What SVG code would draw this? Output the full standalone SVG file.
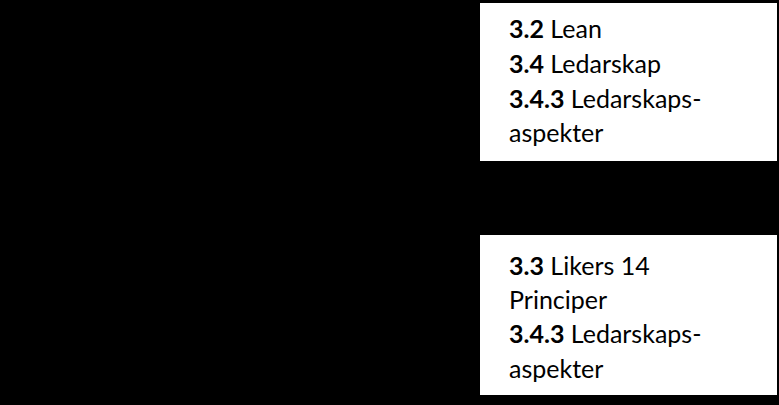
<svg xmlns="http://www.w3.org/2000/svg" width="779" height="405" viewBox="0 0 779 405">
<style>
.box{fill:#fff;stroke:none}
.t{font-family:Lato,"Open Sans",sans-serif;font-size:25px;fill:#000}
.b{font-weight:bold}
</style>
<rect x="0" y="0" width="779" height="405" fill="#000"/>
<g id="node1">
<rect class="box" x="480" y="3" width="297" height="158"/>
<text class="t" x="509" y="38"><tspan class="b">3.2</tspan> Lean</text>
<text class="t" x="509" y="73"><tspan class="b">3.4</tspan> Ledarskap</text>
<text class="t" x="509" y="108"><tspan class="b">3.4.3</tspan> Ledarskaps-</text>
<text class="t" x="509" y="142">aspekter</text>
</g>
<g id="node2">
<rect class="box" x="480" y="235" width="297" height="160"/>
<text class="t" x="509" y="275"><tspan class="b">3.3</tspan> Likers 14</text>
<text class="t" x="509" y="309">Principer</text>
<text class="t" x="509" y="343"><tspan class="b">3.4.3</tspan> Ledarskaps-</text>
<text class="t" x="509" y="378">aspekter</text>
</g>
<g id="connectors"></g>
</svg>
